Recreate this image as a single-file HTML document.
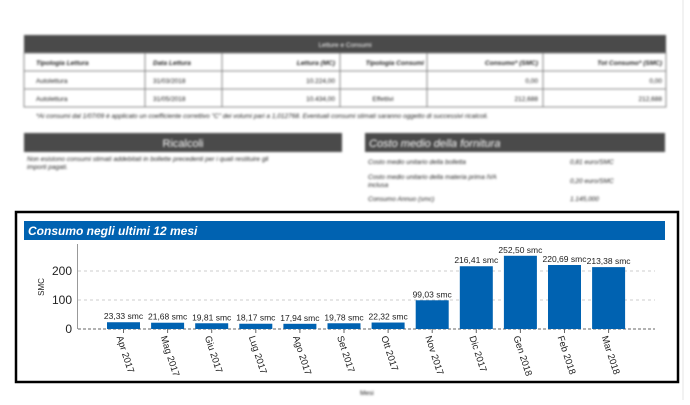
<!DOCTYPE html>
<html><head><meta charset="utf-8"><style>
body{margin:0;background:#fff;width:690px;height:400px;overflow:hidden;font-family:"Liberation Sans",sans-serif;}
.blur{filter:blur(1px);}
</style></head><body>
<svg width="690" height="400" xmlns="http://www.w3.org/2000/svg" font-family="Liberation Sans, sans-serif">
<rect x="0" y="0" width="690" height="400" fill="#fff"/>
<line x1="683" y1="0" x2="683" y2="400" stroke="#e6e6e6" stroke-width="1"/>
<g class="blur" font-size="6.5" fill="#222">
  <rect x="24" y="35" width="642" height="18" fill="#4a4a4a"/>
  <text x="345" y="47" fill="#fff" text-anchor="middle">Letture e Consumi</text>
  <rect x="24" y="53" width="642" height="54" fill="none" stroke="#888"/>
  <line x1="24" y1="71" x2="666" y2="71" stroke="#888"/>
  <line x1="24" y1="89" x2="666" y2="89" stroke="#888"/>
  <g stroke="#888"><line x1="145" y1="53" x2="145" y2="107"/><line x1="222" y1="53" x2="222" y2="107"/><line x1="340" y1="53" x2="340" y2="107"/><line x1="427" y1="53" x2="427" y2="107"/><line x1="543" y1="53" x2="543" y2="107"/></g>
  <g font-weight="bold" font-style="italic"><text x="36" y="65">Tipologia Lettura</text><text x="153" y="65">Data Lettura</text><text x="335" y="65" text-anchor="end">Lettura (MC)</text><text x="424" y="65" text-anchor="end">Tipologia Consumi</text><text x="538" y="65" text-anchor="end">Consumo* (SMC)</text><text x="662" y="65" text-anchor="end">Tot Consumo* (SMC)</text></g>
  <text x="36" y="83">Autolettura</text><text x="153" y="83">31/03/2018</text><text x="335" y="83" text-anchor="end">10.224,00</text><text x="538" y="83" text-anchor="end">0,00</text><text x="662" y="83" text-anchor="end">0,00</text>
  <text x="36" y="101">Autolettura</text><text x="153" y="101">31/05/2018</text><text x="335" y="101" text-anchor="end">10.434,00</text><text x="383" y="101" text-anchor="middle">Effettivi</text><text x="538" y="101" text-anchor="end">212,688</text><text x="662" y="101" text-anchor="end">212,688</text>
  <text x="36" y="118" font-style="italic">*Ai consumi dal 1/07/09 è applicato un coefficiente correttivo "C" dei volumi pari a 1,012768. Eventuali consumi stimati saranno oggetto di successivi ricalcoli.</text>
  <rect x="24" y="133" width="318" height="19" fill="#4a4a4a"/>
  <text x="183" y="147" fill="#fff" font-size="11" text-anchor="middle">Ricalcoli</text>
  <text x="27" y="161" font-style="italic">Non esistono consumi stimati addebitati in bollette precedenti per i quali restituire gli</text>
  <text x="27" y="169" font-style="italic">importi pagati.</text>
  <rect x="365" y="133" width="300" height="19" fill="#4a4a4a"/>
  <text x="369" y="147" fill="#fff" font-size="11" font-style="italic">Costo medio della fornitura</text>
  <g font-style="italic"><text x="368" y="164">Costo medio unitario della bolletta</text><text x="570" y="164">0,81 euro/SMC</text>
  <text x="368" y="179">Costo  medio  unitario  della  materia  prima  IVA</text><text x="368" y="187">inclusa</text><text x="570" y="183">0,20 euro/SMC</text>
  <text x="368" y="201">Consumo Annuo (smc)</text><text x="570" y="201">1.145,000</text></g>
  <text x="360" y="395" font-size="6.5">Mesi</text>
</g>
<rect x="16" y="212" width="662" height="170" fill="none" stroke="#000" stroke-width="2.5"/>
<rect x="24" y="221" width="641" height="19" fill="#0062b1"/>
<text x="28" y="235" fill="#fff" font-size="12" font-weight="bold" font-style="italic">Consumo negli ultimi 12 mesi</text>
<line x1="77.5" y1="244" x2="77.5" y2="329" stroke="#999" stroke-width="1"/>
<g stroke="#ccc" stroke-dasharray="3,3"><line x1="78" y1="271" x2="655" y2="271"/><line x1="78" y1="300" x2="655" y2="300"/></g>
<line x1="78" y1="329" x2="655" y2="329" stroke="#666" stroke-dasharray="3,2"/>
<g font-size="12" fill="#222" text-anchor="end"><text x="72" y="275">200</text><text x="72" y="304">100</text><text x="72" y="333">0</text></g>
<text transform="translate(44,287) rotate(-90)" font-size="8" text-anchor="middle" fill="#222">SMC</text>
<g id="bars" fill="#0062b1"></g>
<g id="lbl" font-size="8.5" fill="#222" text-anchor="middle"></g>
<g id="xl" font-size="9.5" fill="#222"></g>
</svg>
<script>
var v=[23.33,21.68,19.81,18.17,17.94,19.78,22.32,99.03,216.41,252.50,220.69,213.38];
var m=["Apr 2017","Mag 2017","Giu 2017","Lug 2017","Ago 2017","Set 2017","Ott 2017","Nov 2017","Dic 2017","Gen 2018","Feb 2018","Mar 2018"];
var ns="http://www.w3.org/2000/svg",b=document.getElementById("bars"),l=document.getElementById("lbl"),x=document.getElementById("xl");
for(var i=0;i<12;i++){var x0=107+i*44.1,h=v[i]*0.29,c=x0+16.5;
var r=document.createElementNS(ns,"rect");r.setAttribute("x",x0);r.setAttribute("y",329-h);r.setAttribute("width",33);r.setAttribute("height",h);b.appendChild(r);
var t=document.createElementNS(ns,"text");t.setAttribute("x",c);t.setAttribute("y",329-h-3);t.textContent=v[i].toFixed(2).replace(".",",")+" smc";l.appendChild(t);
var k=document.createElementNS(ns,"line");k.setAttribute("x1",c);k.setAttribute("x2",c);k.setAttribute("y1",329);k.setAttribute("y2",333);k.setAttribute("stroke","#666");x.appendChild(k);
var s=document.createElementNS(ns,"text");s.setAttribute("transform","translate("+(c-7)+",337) rotate(72)");s.textContent=m[i];x.appendChild(s);}
</script>
</body></html>
